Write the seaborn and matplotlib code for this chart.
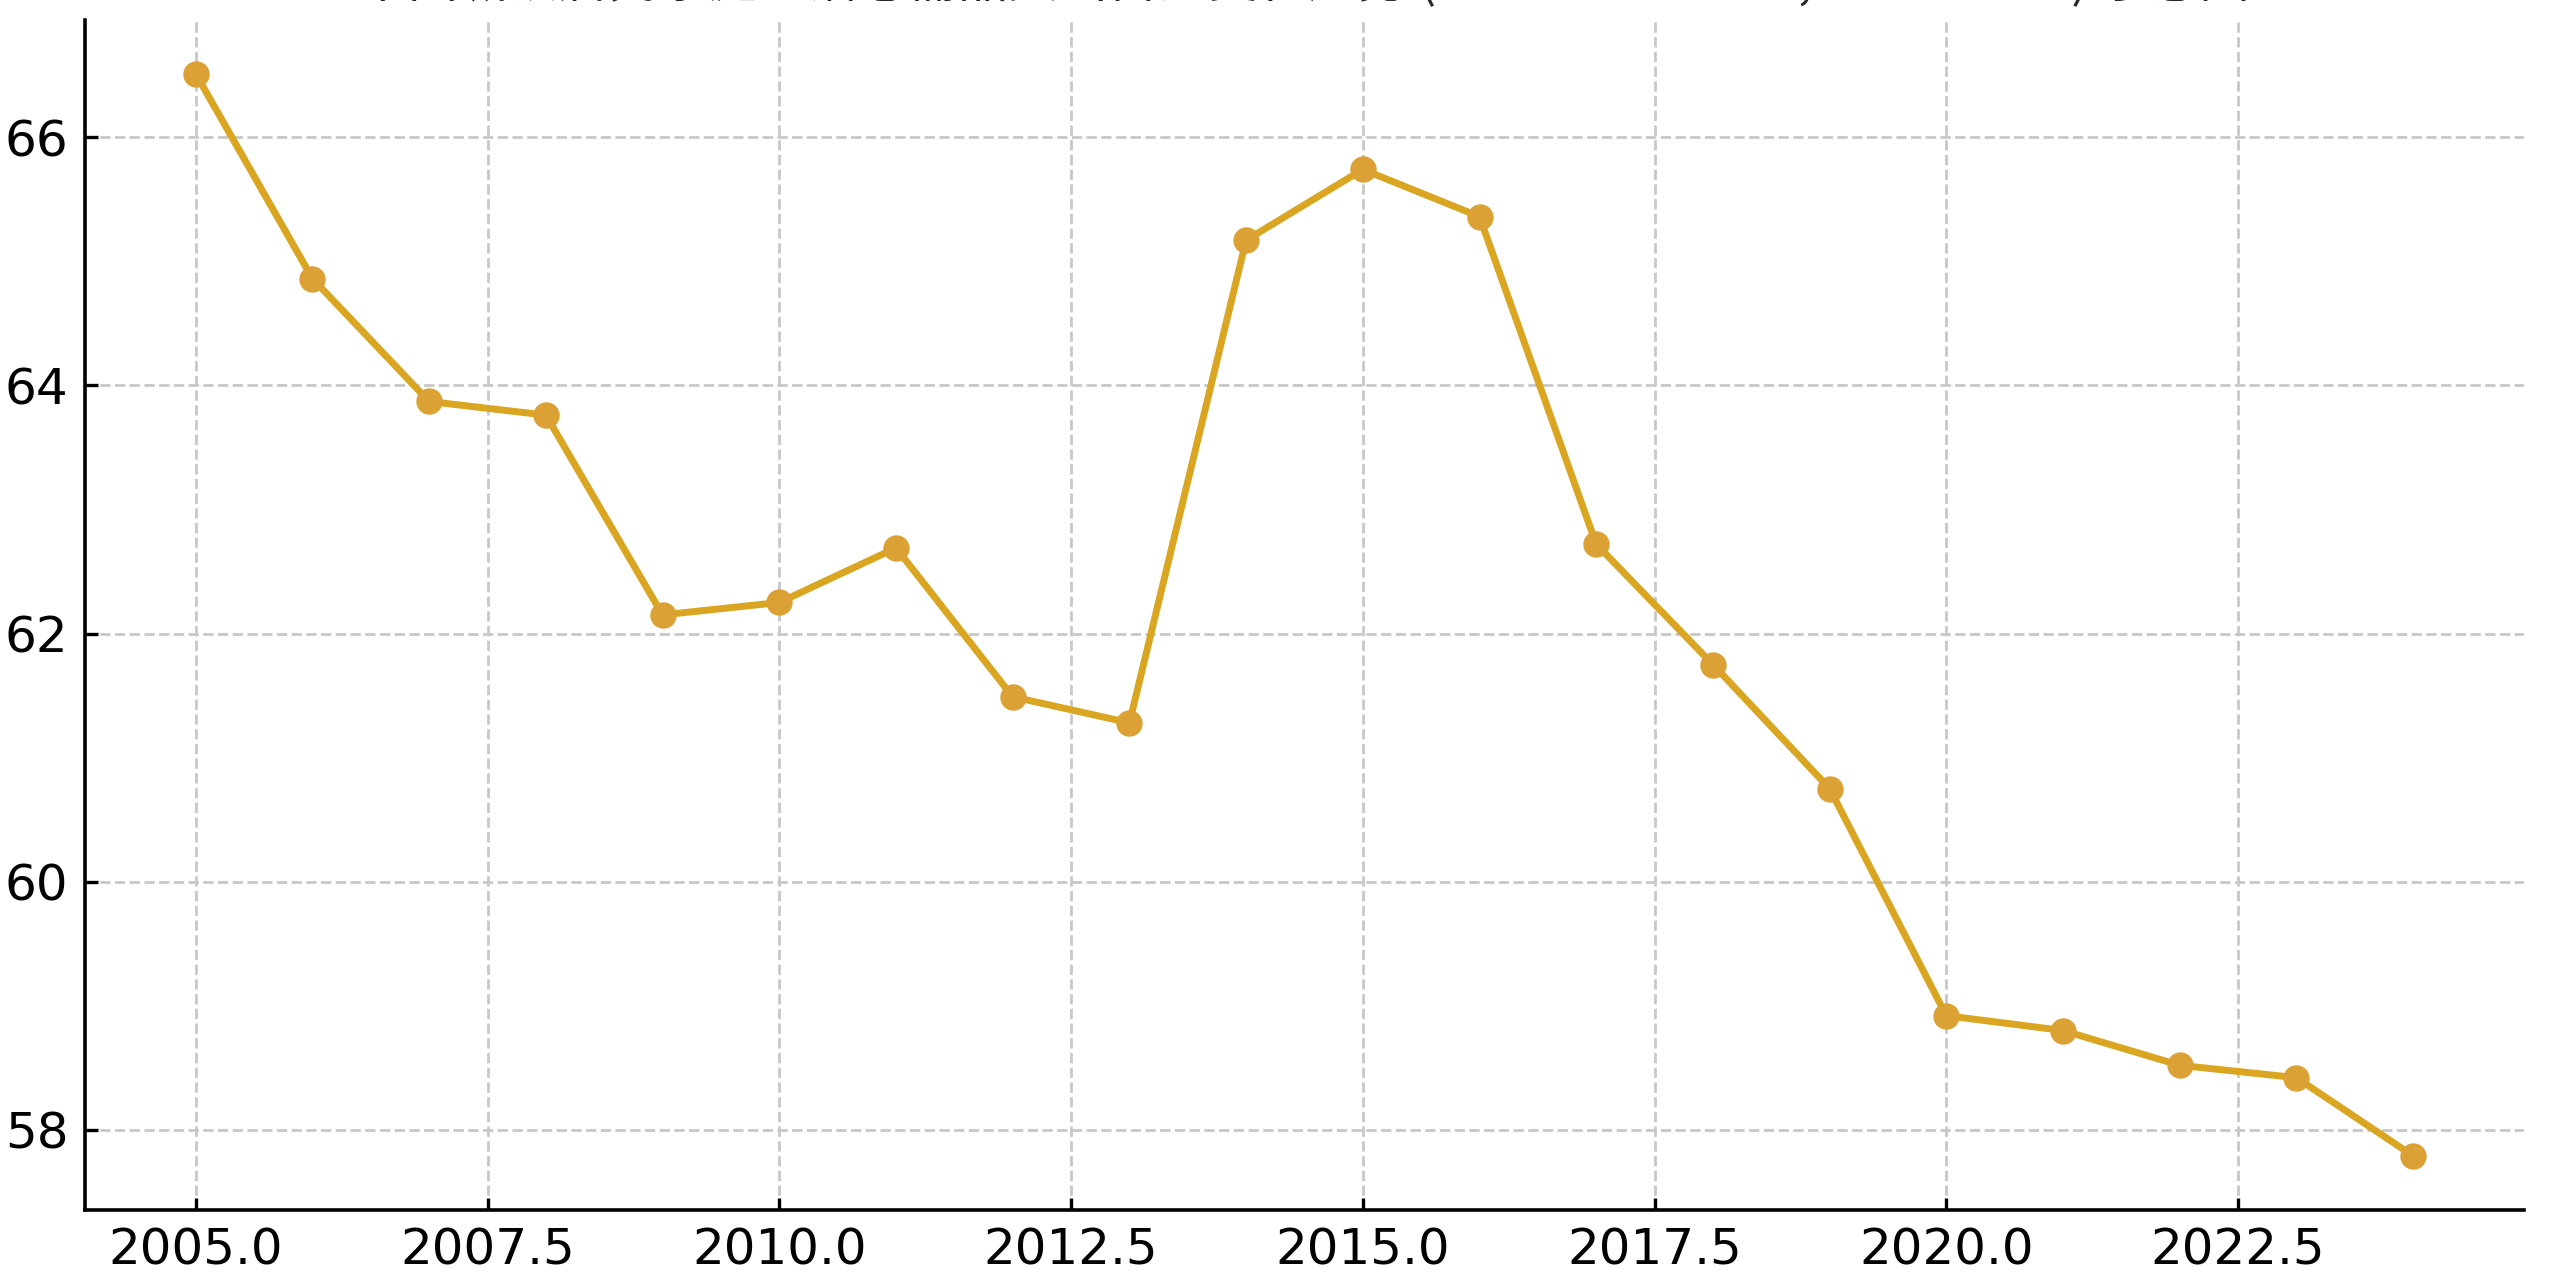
import numpy as np
import pandas as pd
import seaborn as sns
import matplotlib.pyplot as plt

# values
years = [2005, 2006, 2007, 2008, 2009, 2010, 2011, 2012, 2013, 2014,
         2015, 2016, 2017, 2018, 2019, 2020, 2021, 2022, 2023, 2024]
share = [66.51, 64.86, 63.87, 63.76, 62.15, 62.25, 62.69, 61.49, 61.28, 65.17,
         65.74, 65.36, 62.72, 61.75, 60.75, 58.92, 58.80, 58.52, 58.42, 57.79]
title_text = '中国城镇居民家庭生活必需品支出占比变化趋势 (Year 2005–2024, Share in %) 示意图'

df = pd.DataFrame({'year': years, 'share': share})

sns.set_theme(style='ticks')
plt.rcParams['font.family'] = ['DejaVu Sans']

fig = plt.figure(figsize=(12.79, 6.44), dpi=200)
ax = fig.add_axes([0.0332, 0.0606, 0.9535, 0.924])

sns.lineplot(data=df, x='year', y='share', ax=ax, color='#DAA520', linewidth=2.5,
             marker='o', markersize=9.5, markerfacecolor='#DBA135', markeredgewidth=0)

ax.grid(True, linestyle='--', color='#c8c8c8', linewidth=1.0)
ax.set_axisbelow(True)
ax.set_xlabel('')
ax.set_ylabel('')
sns.despine(ax=ax)
for s in ['left', 'bottom']:
    ax.spines[s].set_linewidth(1.3)
    ax.spines[s].set_color('black')
ax.tick_params(direction='in', length=4.5, width=1.2, labelsize=18, colors='black', pad=6)

# title sits above the figure edge, only its lower edge shows (as in the source image)
fig.text(0.5096, 1 + 3 / 1288, title_text, ha='center', va='baseline', fontsize=18,
         family=['Noto Sans CJK SC', 'DejaVu Sans'])

fig.savefig('out.png', dpi=200)
